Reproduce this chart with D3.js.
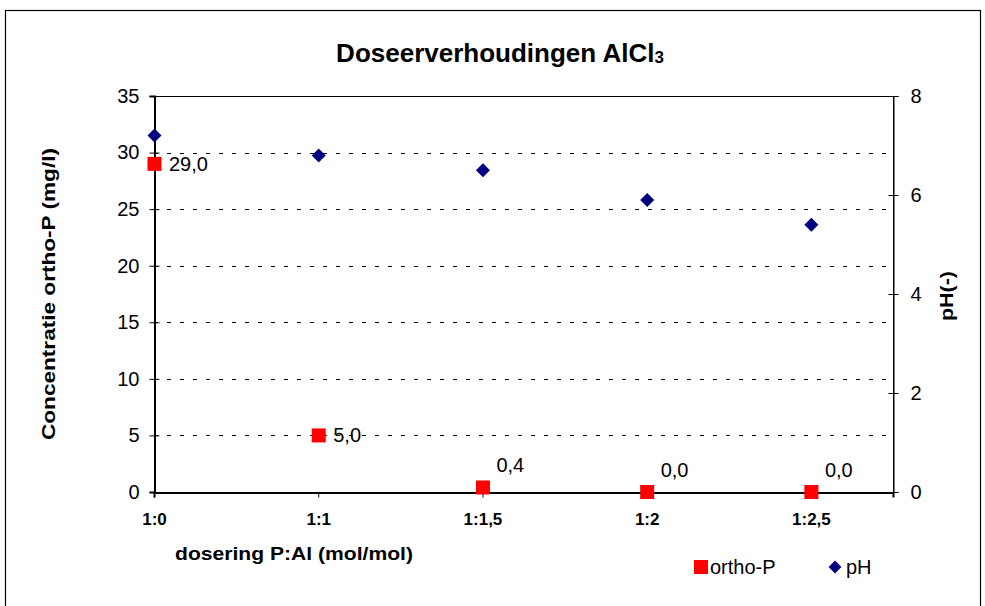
<!DOCTYPE html>
<html>
<head>
<meta charset="utf-8">
<script src="https://cdn.jsdelivr.net/npm/d3@7"></script>
<style>
  body { margin: 0; background: #fff; }
  svg { font-family: "Liberation Sans", Arial, sans-serif; }
</style>
</head>
<body>
<svg id="chart"></svg>
<script>
const width = 985;
const height = 606;

// data
const categories = ["1:0", "1:1", "1:1,5", "1:2", "1:2,5"];
const orthoP = [29.0, 5.0, 0.4, 0.0, 0.0];
const pH = [7.2, 6.8, 6.5, 5.9, 5.4];
const leftTicks = [0, 5, 10, 15, 20, 25, 30, 35];
const rightTicks = [0, 2, 4, 6, 8];

const plot = {left: 154, right: 893, top: 96, bottom: 492};
const font = "Liberation Sans, Arial, sans-serif";

const svg = d3.select("#chart")
    .attr("width", width)
    .attr("height", height);

// outer chart frame
svg.append("rect")
    .attr("x", 5.5).attr("y", 10.5)
    .attr("width", 975).attr("height", 620)
    .attr("fill", "none")
    .attr("stroke", "#000")
    .attr("stroke-width", 1.2);

const x = d3.scaleLinear().domain([0, 4.5]).range([plot.left, plot.right]);
const yL = d3.scaleLinear().domain([0, 35]).range([plot.bottom, plot.top]);
const yR = d3.scaleLinear().domain([0, 8]).range([plot.bottom, plot.top]);

// dashed gridlines
svg.append("g")
    .selectAll("line")
    .data(leftTicks.filter(d => d > 0 && d < 35))
    .enter().append("line")
    .attr("x1", plot.left).attr("x2", plot.right)
    .attr("y1", d => Math.round(yL(d)) + 0.5)
    .attr("y2", d => Math.round(yL(d)) + 0.5)
    .attr("stroke", "#000")
    .attr("stroke-width", 1)
    .attr("stroke-dasharray", "4,9");

// plot area border
svg.append("rect")
    .attr("x", plot.left + 0.5).attr("y", plot.top + 0.5)
    .attr("width", plot.right - plot.left).attr("height", plot.bottom - plot.top)
    .attr("fill", "none")
    .attr("stroke", "#000")
    .attr("stroke-width", 1);

// left axis
const axL = svg.append("g")
    .attr("transform", `translate(${plot.left + 0.5},0)`)
    .call(d3.axisLeft(yL).tickValues(leftTicks).tickSize(5).tickPadding(10));
axL.select(".domain").attr("stroke-width", 2);
axL.selectAll(".tick line").attr("x2", 5).attr("x1", -5);
axL.selectAll("text").attr("font-size", 20).attr("font-family", font).attr("fill", "#000");

// right axis
const axR = svg.append("g")
    .attr("transform", `translate(${plot.right + 0.5},0)`)
    .call(d3.axisRight(yR).tickValues(rightTicks).tickSize(5).tickPadding(12));
axR.selectAll(".tick line").attr("x1", -5).attr("x2", 5);
axR.selectAll("text").attr("font-size", 20).attr("font-family", font).attr("fill", "#000");

// bottom axis
const axB = svg.append("g")
    .attr("transform", `translate(0,${plot.bottom + 0.5})`)
    .call(d3.axisBottom(x).tickValues(d3.range(categories.length))
        .tickFormat(i => categories[i]).tickSize(5).tickPadding(15));
axB.select(".domain").attr("stroke-width", 2);
axB.selectAll("text")
    .attr("font-size", 17)
    .attr("font-weight", "bold")
    .attr("font-family", font)
    .attr("fill", "#000");

// title
const title = svg.append("text")
    .attr("x", 500).attr("y", 62)
    .attr("text-anchor", "middle")
    .attr("font-size", 26)
    .attr("font-weight", "bold");
title.append("tspan").text("Doseerverhoudingen AlCl");
title.append("tspan").attr("font-size", 17).attr("dy", 1).text("3");

// axis titles
svg.append("text")
    .attr("transform", `translate(55,294) rotate(-90)`)
    .attr("text-anchor", "middle")
    .attr("font-size", 19)
    .attr("font-weight", "bold")
    .attr("textLength", 292)
    .attr("lengthAdjust", "spacingAndGlyphs")
    .text("Concentratie ortho-P (mg/l)");

svg.append("text")
    .attr("transform", `translate(953,296) rotate(-90)`)
    .attr("text-anchor", "middle")
    .attr("font-size", 19)
    .attr("font-weight", "bold")
    .attr("textLength", 50)
    .attr("lengthAdjust", "spacingAndGlyphs")
    .text("pH(-)");

svg.append("text")
    .attr("x", 175).attr("y", 560)
    .attr("font-size", 19)
    .attr("font-weight", "bold")
    .attr("textLength", 238)
    .attr("lengthAdjust", "spacingAndGlyphs")
    .text("dosering P:Al (mol/mol)");

// pH series (diamonds)
const diamond = d3.symbol().type(d3.symbolDiamond2).size(125);
svg.append("g")
    .selectAll("path")
    .data(pH)
    .enter().append("path")
    .attr("d", diamond)
    .attr("transform", (d, i) => `translate(${x(i) + 0.5},${yR(d)})`)
    .attr("fill", "#000080");

// ortho-P series (squares)
const sq = 14;
svg.append("g")
    .selectAll("rect")
    .data(orthoP)
    .enter().append("rect")
    .attr("x", (d, i) => x(i) - sq / 2 + 0.5)
    .attr("y", d => yL(d) - sq / 2)
    .attr("width", sq).attr("height", sq)
    .attr("fill", "#ff0000");

// data labels
const fmt = d => d.toFixed(1).replace(".", ",");
svg.append("g")
    .selectAll("text")
    .data(orthoP)
    .enter().append("text")
    .attr("x", (d, i) => x(i) + (d > 1 ? 15 : 14))
    .attr("y", d => d > 1 ? yL(d) + 7 : yL(d) - 15)
    .attr("font-size", 20)
    .text(fmt);

// legend
svg.append("rect")
    .attr("x", 694).attr("y", 560)
    .attr("width", 14).attr("height", 14)
    .attr("fill", "#ff0000");
svg.append("text")
    .attr("x", 710).attr("y", 574)
    .attr("font-size", 20)
    .text("ortho-P");
svg.append("path")
    .attr("d", d3.symbol().type(d3.symbolDiamond2).size(105))
    .attr("transform", "translate(835,567)")
    .attr("fill", "#000080");
svg.append("text")
    .attr("x", 846).attr("y", 574)
    .attr("font-size", 20)
    .text("pH");
</script>
</body>
</html>
